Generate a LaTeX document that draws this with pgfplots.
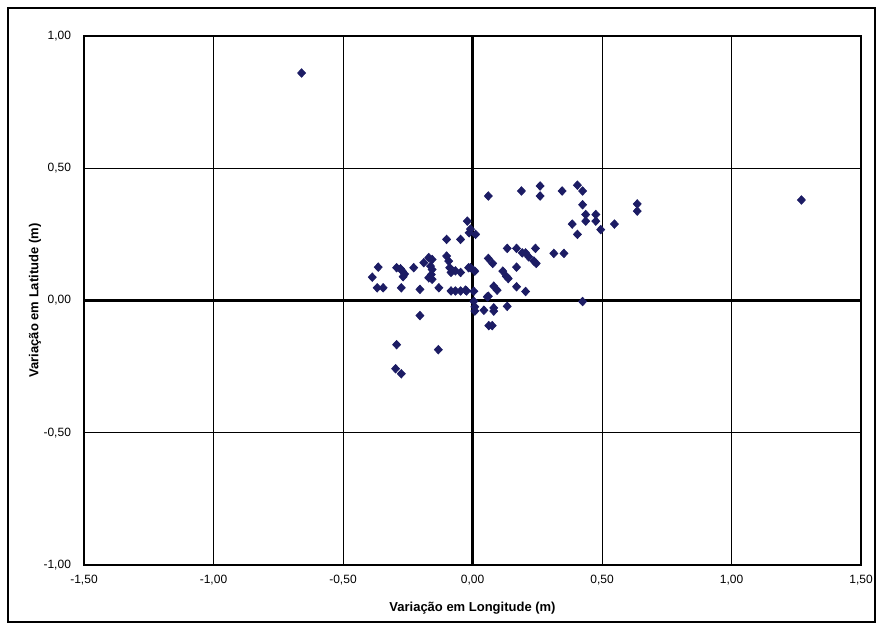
\documentclass[border=0pt]{standalone}
\usepackage{fontspec}
\setmainfont{Liberation Sans}
\usepackage{pgfplots}
\pgfplotsset{compat=1.18}
\definecolor{navy}{RGB}{28,28,100}
\begin{document}
\begin{tikzpicture}
\path (-42pt,-32.5pt) rectangle (398.5pt,282.5pt);
\draw[line width=0.6pt] (-38pt,-28.5pt) rectangle (395.5pt,278.5pt);
\begin{axis}[at={(0,0)},anchor=south west, scale only axis,
 width=388.5pt, height=264.5pt,
 xmin=-1.5,xmax=1.5,ymin=-1,ymax=1,
 xtick={-1.5,-1,-0.5,0,0.5,1,1.5}, ytick={-1,-0.5,0,0.5,1},
 xticklabels={{-1,50},{-1,00},{-0,50},{0,00},{0,50},{1,00},{1,50}},
 yticklabels={{-1,00},{-0,50},{0,00},{0,50},{1,00}},
 major tick length=0pt,
 grid=major, major grid style={black, line width=0.5pt},
 axis line style={black, line width=0.6pt},
 tick label style={font=\fontsize{6}{7}\selectfont},
 xticklabel style={anchor=center, yshift=-7.5pt},
 yticklabel style={anchor=east, xshift=-3pt},
 xlabel={Variação em Longitude (m)}, ylabel={Variação em Latitude (m)},
 label style={font=\bfseries\fontsize{6.5}{8}\selectfont},
 xlabel style={at={(axis description cs:0.5,-0.0813)},anchor=center},
 ylabel style={at={(axis description cs:-0.063,0.5)},anchor=center},
 clip=false]
\draw[line width=1.4pt] (axis cs:-1.5,0) -- (axis cs:1.5,0);
\draw[line width=1.4pt] (axis cs:0,-1) -- (axis cs:0,1);
\addplot[only marks, mark=diamond*, mark size=2.1pt, mark options={xscale=1.25}, color=navy] coordinates {
(-0.66,0.86) (1.27,0.38)
(-0.387,0.088) (-0.364,0.126) (-0.368,0.048) (-0.345,0.048)
(-0.293,0.124) (-0.270,0.110) (-0.268,0.090) (-0.278,0.120) (-0.262,0.100)
(-0.227,0.124) (-0.275,0.048) (-0.203,0.042)
(-0.188,0.143) (-0.169,0.162) (-0.156,0.155) (-0.162,0.130) (-0.156,0.117)
(-0.159,0.098) (-0.169,0.086) (-0.156,0.080)
(-0.130,0.048) (-0.100,0.168) (-0.092,0.149) (-0.088,0.124) (-0.083,0.106)
(-0.066,0.112) (-0.046,0.106) (-0.083,0.036) (-0.066,0.036) (-0.046,0.036)
(-0.023,0.036) (-0.015,0.124) (-0.100,0.231) (-0.046,0.231) (-0.020,0.300)
(-0.013,0.256) (0.012,0.250) (-0.008,0.270)
(0.061,0.395) (0.189,0.414) (0.261,0.433) (0.261,0.395) (0.346,0.414)
(0.405,0.436) (0.425,0.414) (0.425,0.362) (0.437,0.325) (0.437,0.300)
(0.476,0.325) (0.476,0.300) (0.385,0.289) (0.405,0.250) (0.495,0.268)
(0.548,0.289) (0.636,0.365) (0.636,0.338) (0.314,0.178) (0.353,0.178)
(0.425,-0.004)
(0.134,0.197) (0.170,0.197) (0.192,0.180) (0.205,0.180) (0.217,0.165)
(0.243,0.197) (0.237,0.149) (0.246,0.140) (0.061,0.159) (0.078,0.140)
(-0.008,0.124) (0.009,0.111) (0.170,0.126) (0.117,0.111) (0.130,0.092)
(0.138,0.083) (0.082,0.054) (0.095,0.039) (0.170,0.052) (0.205,0.034)
(-0.027,0.039) (0.005,0.035) (0.061,0.016) (0.057,0.014) (0.005,-0.003)
(0.009,-0.024) (0.009,-0.040) (0.044,-0.037) (0.082,-0.028) (0.082,-0.040)
(0.134,-0.022) (0.063,-0.095) (0.076,-0.095)
(-0.203,-0.057) (-0.293,-0.167) (-0.132,-0.186) (-0.297,-0.258) (-0.275,-0.277)
};
\end{axis}
\end{tikzpicture}
\end{document}
